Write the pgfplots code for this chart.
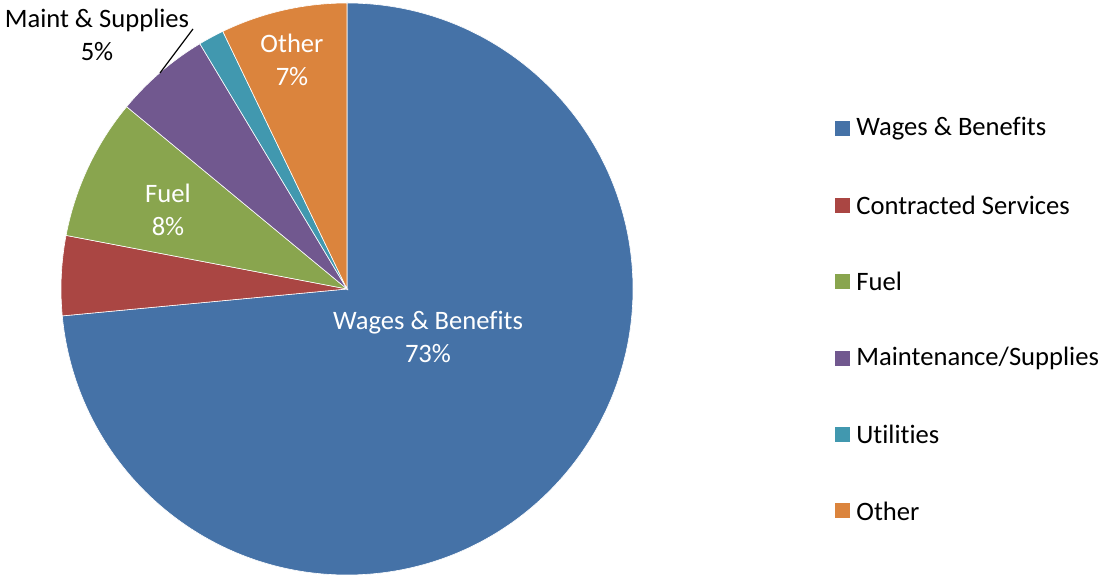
\documentclass[border=0pt]{standalone}
\usepackage{pgfplots}
\pgfplotsset{compat=1.18}
\usepackage{pgfplotstable}
\usepackage{fontspec}
\setmainfont{Carlito}[Ligatures={NoCommon}]

\definecolor{wages}{HTML}{4572A7}
\definecolor{contracted}{HTML}{AA4643}
\definecolor{fuel}{HTML}{89A54E}
\definecolor{maint}{HTML}{71588F}
\definecolor{util}{HTML}{4198AF}
\definecolor{other}{HTML}{DB843D}

% shares in percent, clockwise from 12 o'clock
\pgfplotstableread{
share color      label
73.5  wages      {Wages \& Benefits}
4.5   contracted {Contracted Services}
8.0   fuel       {Fuel}
5.4   maint      {Maintenance/Supplies}
1.45  util       {Utilities}
7.15  other      {Other}
}\costs

\begin{document}
\begin{tikzpicture}
\begin{axis}[
	hide axis,
	disabledatascaling,
	x=0.5pt, y=0.5pt,
	xmin=0, xmax=1100, ymin=0, ymax=578,
	clip=false,
]
\coordinate (ll) at (axis cs:0,0);
\coordinate (ur) at (axis cs:1100,578);
\pgfplotsextra{
	\gdef\angA{90}
	\foreach \i in {0,...,5}{
		\pgfplotstablegetelem{\i}{share}\of\costs \let\v\pgfplotsretval
		\pgfplotstablegetelem{\i}{color}\of\costs \let\c\pgfplotsretval
		\pgfplotstablegetelem{\i}{label}\of\costs \let\l\pgfplotsretval
		\pgfmathsetmacro\angB{\angA-3.6*\v}
		\fill[fill=\c, draw=white, line width=0.3pt] (axis cs:347,289) -- ++(\angA:143pt)
			arc[start angle=\angA, end angle=\angB, radius=143pt] -- cycle;
		\xdef\angA{\angB}
		% legend entry
		\pgfmathsetmacro\ly{578-129-76.4*\i}
		\fill[fill=\c] (axis cs:835,\ly-7.5) rectangle (axis cs:850,\ly+7.5);
		\node[anchor=west, inner sep=0pt, font=\fontsize{13.3}{16}\selectfont] at (axis cs:856,\ly) {\l};
	}
}
\node[align=center, text=white, font=\fontsize{13.3}{16.5}\selectfont] at (axis cs:428,241) {Wages \& Benefits\\73\%};
\node[align=center, text=white, font=\fontsize{13.3}{16.5}\selectfont] at (axis cs:168,368) {Fuel\\8\%};
\node[align=center, text=white, font=\fontsize{13.3}{16.5}\selectfont] at (axis cs:292,518) {Other\\7\%};
\node[align=center, font=\fontsize{13.3}{16.5}\selectfont] at (axis cs:97,543) {Maint \& Supplies\\5\%};
\draw[black, line width=0.6pt] (axis cs:160,505) -- (axis cs:193,549);
\end{axis}
\pgfresetboundingbox
\path (ll) rectangle (ur);
\end{tikzpicture}
\end{document}
